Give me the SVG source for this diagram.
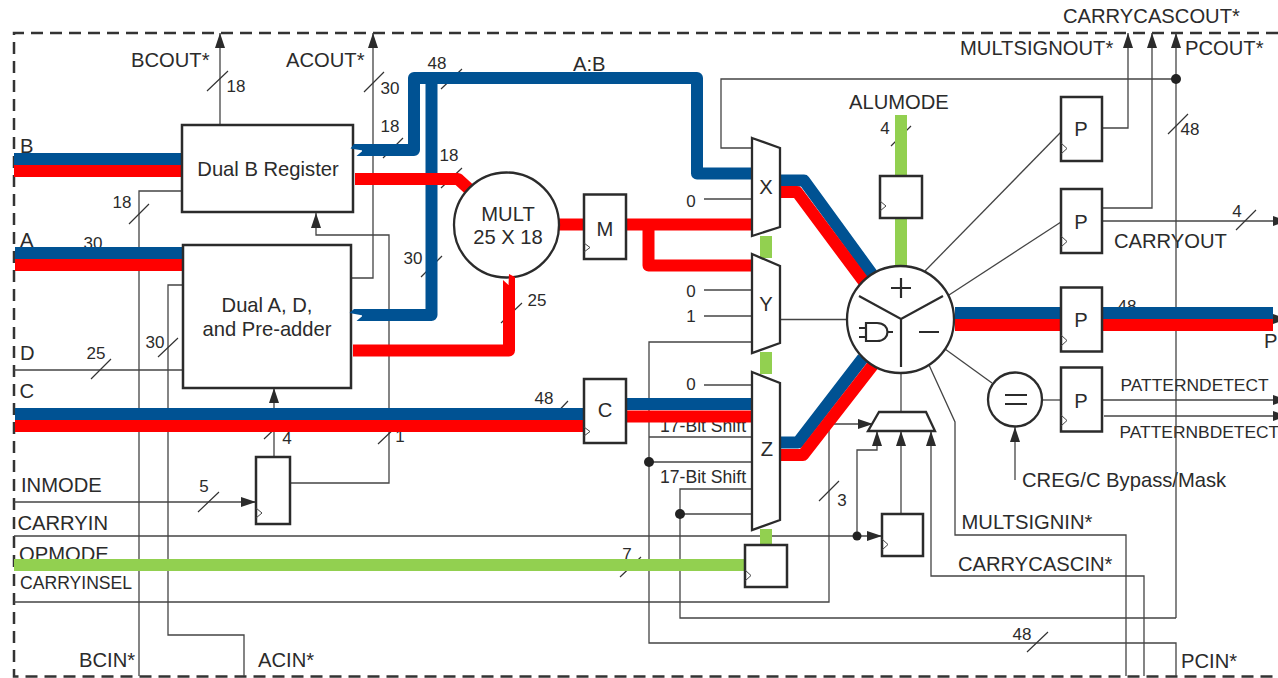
<svg xmlns="http://www.w3.org/2000/svg" width="1278" height="678" viewBox="0 0 1278 678">
<defs>
<marker id="arr" markerUnits="userSpaceOnUse" markerWidth="16" markerHeight="11" refX="15" refY="5" orient="auto"><path d="M0,0 L15,5 L0,10 z" fill="#2b2b2b"/></marker>
</defs>
<style>
text{font-family:"Liberation Sans",Arial,sans-serif;fill:#2b2b2b;font-size:20.2px}
.s{font-size:17px}
.pd{font-size:17.400px}
.m{text-anchor:middle}
.t{fill:none;stroke:#444;stroke-width:1.3}
.a{marker-end:url(#arr)}
.sl{stroke:#333;stroke-width:1.2;fill:none}
.bl,.rd,.gr{fill:none;stroke-width:12;stroke-linejoin:round}
.bl{stroke:#005293}
.rd{stroke:#ff0000}
.gr{stroke:#92d050}
.box{fill:#fff;stroke:#2b2b2b;stroke-width:2.5}
.ck{fill:none;stroke:#444;stroke-width:1}
.thin{fill:#fff;stroke:#2b2b2b;stroke-width:2.3}
.in{fill:none;stroke:#2b2b2b;stroke-width:2.2}
.dot{fill:#222}
</style>
<rect width="1278" height="678" fill="#fff"/>
<path id="frame" d="M1278,33 H14 V676.5 H1278" fill="none" stroke="#333" stroke-width="2.5" stroke-dasharray="12 7"/>

<g id="labels">
<text x="131" y="67">BCOUT*</text>
<text x="286" y="67">ACOUT*</text>
<text x="20" y="153">B</text>
<text x="20" y="247">A</text>
<text x="20" y="360">D</text>
<text x="19.500" y="398">C</text>
<text x="21" y="492">INMODE</text>
<text x="17.500" y="530">CARRYIN</text>
<text x="19" y="561">OPMODE</text>
<text x="20" y="589" style="font-size:17.600px">CARRYINSEL</text>
<text x="79" y="667">BCIN*</text>
<text x="258" y="667">ACIN*</text>
<text x="573" y="71">A:B</text>
<text x="849" y="109">ALUMODE</text>
<text x="1063" y="23">CARRYCASCOUT*</text>
<text x="960" y="55">MULTSIGNOUT*</text>
<text x="1185" y="55">PCOUT*</text>
<text x="1114" y="248">CARRYOUT</text>
<text x="1264" y="348">P</text>
<text x="1120.500" y="391" class="pd">PATTERNDETECT</text>
<text x="1119.500" y="438" class="pd">PATTERNBDETECT</text>
<text x="1022" y="487">CREG/C Bypass/Mask</text>
<text x="961.500" y="529">MULTSIGNIN*</text>
<text x="958" y="571">CARRYCASCIN*</text>
<text x="1181" y="668">PCIN*</text>
<text x="660" y="432" style="font-size:17.600px">17-Bit Shift</text>
<text x="660" y="483" style="font-size:17.600px">17-Bit Shift</text>
<text x="691" y="207" class="s m">0</text>
<text x="691" y="297" class="s m">0</text>
<text x="691" y="322" class="s m">1</text>
<text x="691" y="390" class="s m">0</text>
<text x="236" y="92" class="s m">18</text>
<text x="390" y="94" class="s m">30</text>
<text x="390" y="132" class="s m">18</text>
<text x="437" y="69" class="s m">48</text>
<text x="449" y="161" class="s m">18</text>
<text x="413" y="264" class="s m">30</text>
<text x="122" y="208" class="s m">18</text>
<text x="93" y="249" class="s m">30</text>
<text x="155" y="348" class="s m">30</text>
<text x="96" y="359" class="s m">25</text>
<text x="287" y="444" class="s m">4</text>
<text x="400" y="442" class="s m">1</text>
<text x="204" y="492" class="s m">5</text>
<text x="627" y="560" class="s m">7</text>
<text x="544" y="404" class="s m">48</text>
<text x="537" y="306" class="s m">25</text>
<text x="885" y="134" class="s m">4</text>
<text x="1190" y="135" class="s m">48</text>
<text x="1237" y="217" class="s m">4</text>
<text x="1127" y="312" class="s m">48</text>
<text x="1022" y="640" class="s m">48</text>
<text x="842" y="506" class="s m">3</text>
</g>

<g id="connectors">
<path class="t a" d="M220,125 V33"/>
<path class="t a" d="M352,278 H373 V33"/>
<path class="t" d="M181,191 H139 V676"/>
<path class="t" d="M183,285 H168 V635 H244 V676"/>
<path class="t" d="M14,370 H183"/>
<path class="t a" d="M14,502 H256"/>
<path class="t a" d="M274,457 V388"/>
<path class="t a" d="M290,483 H389 V235 H316 V213"/>
<path class="t a" d="M14,536 H882"/>
<path class="t" d="M14,602 H829 V424"/>
<path class="t a" d="M829,424 H873"/>
<path class="t a" d="M857,536 V450 H877 V431"/>
<path class="t a" d="M901,514 V431"/>
<path class="t a" d="M1144,676 V576 H931 V431"/>
<path class="t" d="M929,365 L955,422 V535 H1126 V676"/>
<path class="t" d="M945,349 L992,383"/>
<path class="t" d="M901,373 V412"/>
<path class="t" d="M780,319.500 H847"/>
<path class="t" d="M925,271 L1061,132"/>
<path class="t" d="M949,295 L1061,222"/>
<path class="t a" d="M1102,128 H1128 V33"/>
<path class="t a" d="M1102,208 H1152 V33"/>
<path class="t a" d="M1102,221 H1288"/>
<path class="t a" d="M1176,618 V33"/>
<path class="t" d="M1176,79 H721 V148 H752"/>
<path class="t" d="M752,342 H649 V643 H1176 V676"/>
<path class="t" d="M752,437 H649"/>
<path class="t" d="M752,462 H649"/>
<path class="t" d="M752,489 H680 V618 H1176"/>
<path class="t" d="M752,514 H680"/>
<path class="t" d="M704,199 H752"/>
<path class="t" d="M704,290 H752"/>
<path class="t" d="M704,316 H752"/>
<path class="t" d="M704,385 H752"/>
<path class="t" d="M1042,400 H1061"/>
<path class="t a" d="M1102,400 H1288"/>
<path class="t a" d="M1104,416 H1288"/>
<path class="t a" d="M1015,480 V427"/>
<path class="t a" d="M1102,319 H1288"/>
<path class="sl" d="M207,91 L228,71 M364,92 L384,72 M383,158 L403,138 M441,89 L462,69 M441,188 L462,168 M421,277 L442,256 M129,224 L149,204 M158,357 L178,338 M91,379 L111,359 M264,439 L285,419 M378,444 L399,424 M198,512 L219,492 M620,577 L641,557 M548,422 L568,401 M501,323 L522,303 M891,146 L911,126 M1168,134 L1188,114 M1236,230 L1256,210 M1027,652 L1048,632 M819,501 L839,481"/>
<g id="buses">
<path class="bl" d="M14,159 H182"/>
<path class="rd" d="M14,171 H182"/>
<path class="bl" d="M15,253 H184"/>
<path class="rd" d="M15,265 H184"/>
<path class="bl" d="M15,414 H584"/>
<path class="rd" d="M15,426 H584"/>
<path class="gr" d="M14,565 H746"/>
<path class="bl" d="M362,150 H414 V78 H697 V173.500 H752"/>
<path class="bl" d="M362,315 H431.500 V78"/>
<path class="rd" d="M355,179 H458 L470,190"/>
<path class="rd" d="M353,350.500 H509 V290"/>
<path class="rd" d="M558,224.500 H585"/>
<path class="rd" d="M626,224.500 H752"/>
<path class="rd" d="M648.500,224.500 V265.500 H752"/>
<path class="bl" d="M626,404 H752"/>
<path class="rd" d="M626,416.500 H752"/>
<path class="gr" d="M766,236 V258"/>
<path class="gr" d="M766,352 V374"/>
<path class="gr" d="M766,529 V546"/>
<path class="gr" d="M901,115 V267"/>
<path class="bl" d="M780,180.500 H804 L872,274"/>
<path class="rd" d="M780,192 H797 L864,282"/>
<path class="bl" d="M780,442.500 H798 L863,358"/>
<path class="rd" d="M780,455 H803 L873,365"/>
<path class="bl" d="M955,313 H1273"/>
<path class="rd" d="M955,325 H1273"/>
</g>
</g>

<g id="dual-b"><rect class="box" x="182" y="125" width="171" height="87"/><text x="268" y="176" class="m">Dual B Register</text></g>
<g id="dual-a"><rect class="box" x="183" y="245" width="168" height="143"/><text x="267" y="312" class="m">Dual A, D,</text><text x="267" y="336" class="m">and Pre-adder</text></g>
<g id="mult"><circle class="thin" cx="506.500" cy="225" r="52.500"/><text x="508" y="221" class="m">MULT</text><text x="508" y="244" class="m">25 X 18</text></g>
<g id="reg-m"><rect class="box" x="584" y="194.500" width="42" height="64.500"/><path class="ck" d="M584,243 L590,247.500 L584,252"/><text x="605" y="236" class="m">M</text></g>
<g id="reg-c"><rect class="box" x="584" y="379" width="42" height="64"/><path class="ck" d="M584,427 L590,431.500 L584,436"/><text x="605" y="417" class="m">C</text></g>
<g id="reg-inmode"><rect class="box" x="256" y="457" width="34" height="67"/><path class="ck" d="M256,508 L262,513 L256,518"/></g>
<g id="mux-x"><path class="thin" d="M752,138 L780,148 V227 L752,236 z"/><text x="766" y="194" class="m">X</text></g>
<g id="mux-y"><path class="thin" d="M752,254 L780,266 V343 L752,353 z"/><text x="766" y="311" class="m">Y</text></g>
<g id="mux-z"><path class="thin" d="M752,372 L780,383 V520 L752,530 z"/><text x="767" y="456" class="m">Z</text></g>
<g id="reg-opmode"><rect class="box" x="745" y="545" width="42" height="42"/><path class="ck" d="M745,570 L751,575.500 L745,581"/></g>
<g id="reg-alumode"><rect class="box" x="880" y="176" width="42" height="42"/><path class="ck" d="M880,201 L886,206 L880,211"/></g>
<g id="reg-carry"><rect class="box" x="882" y="514" width="41" height="42"/><path class="ck" d="M882,539 L888,544.500 L882,550"/></g>
<g id="carry-mux"><path class="thin" d="M879,412 H926 L935,431 H868 z"/></g>
<g id="alu">
<circle class="thin" cx="900.500" cy="319.500" r="53.500"/>
<path class="in" d="M859,296 L901,319 L943,296 M901,319 V367 M891,288 H911 M901,278 V298 M919,332 H939"/>
<path class="in" d="M866,323 H877 C891,323 891,341 877,341 H866 z M859,328 H866 M859,337 H866 M887,332 H893" stroke-width="1.800"/>
</g>
<g id="reg-p1"><rect class="box" x="1061" y="97" width="41" height="64"/><path class="ck" d="M1061,143 L1067,148.500 L1061,154"/><text x="1081" y="136" class="m">P</text></g>
<g id="reg-p2"><rect class="box" x="1061" y="189" width="41" height="64"/><path class="ck" d="M1061,236 L1067,241.500 L1061,247"/><text x="1081" y="229" class="m">P</text></g>
<g id="reg-p3"><rect class="box" x="1061" y="287.500" width="41" height="64"/><path class="ck" d="M1061,335 L1067,340.500 L1061,346"/><text x="1081" y="327" class="m">P</text></g>
<g id="reg-p4"><rect class="box" x="1061" y="367.500" width="41" height="64"/><path class="ck" d="M1061,415 L1067,420.500 L1061,426"/><text x="1081" y="408" class="m">P</text></g>
<g id="equal"><circle class="thin" cx="1015" cy="399.500" r="27"/><path class="in" d="M1005,395 H1027 M1005,404 H1027"/></g>
<g id="bus-ends">
<path fill="#005293" d="M363,144 H354 L350.500,148.500 L363,150.500 L356.500,156 H363 z"/>
<path fill="#005293" d="M363,309 H354 L349.500,313 L363,315.500 L356.500,321 H363 z"/>
<path fill="#ff0000" d="M503,296 V280 L508.500,285 L509,274 L515,277 V296 z"/>
</g>
<g id="junctions">
<circle class="dot" cx="1176" cy="79" r="5"/>
<circle class="dot" cx="649" cy="462" r="5"/>
<circle class="dot" cx="680" cy="514" r="5"/>
<circle class="dot" cx="857" cy="536" r="4.500"/>
</g>
</svg>
